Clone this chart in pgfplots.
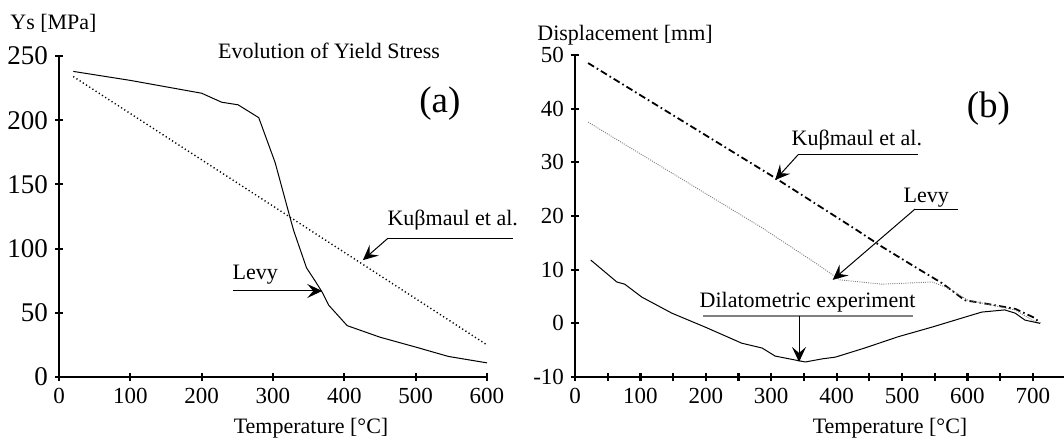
\documentclass[border=0pt]{standalone}
\usepackage{fontspec}
\setmainfont{Liberation Serif}
\usepackage{pgfplots}
\pgfplotsset{compat=1.18}
\usetikzlibrary{arrows.meta}
\tikzset{
 arr/.style={-{Stealth[length=7.5pt,width=7pt,inset=3pt]}, line width=0.5pt},
 ann/.style={font=\fontsize{11}{13}\selectfont, inner sep=0pt},
}
\pgfplotsset{
 myaxis/.style={
  scale only axis,
  axis x line=bottom, axis y line=left,
  axis line style={-, line width=1.4pt},
  tick align=center, major tick length=4pt,
  tick style={black, line width=1.1pt},
  /pgf/number format/assume math mode=true,
  ticklabel style={font=\fontsize{11.5}{13}\selectfont},
  clip=false,
 },
}
\begin{document}
\begin{tikzpicture}
\path[use as bounding box] (0pt,0pt) rectangle (532pt,219.5pt);
% ---------- (a) ----------
\begin{axis}[myaxis, at={(29.5pt,31pt)}, anchor=south west,
  width=214pt, height=160.5pt,
  xmin=0, xmax=600, ymin=0, ymax=250,
  yticklabel style={font=\fontsize{13.5}{15}\selectfont},
  xtick={0,100,...,600}, ytick={0,50,...,250}]
\addplot[black, line width=0.5pt] coordinates {
 (20,238) (100,231) (200,221) (228,214) (251,212) (280,202) (303,167)
 (324,124) (329,114) (347,85) (360,74) (369,66) (378,56) (404,40) (450,31)
 (502,23) (546,16) (600,11)};
\addplot[black, line width=0.7pt, dash pattern=on 0.6pt off 1.3pt] coordinates {
 (20,234) (600,25)};
\node[ann] at (axis cs:552,122) {Ku\char"03B2 maul et al.};
\draw[line width=0.5pt] (axis cs:636,108) -- (axis cs:461,108);
\draw[arr] (axis cs:461,108) -- (axis cs:426,91);
\node[ann] at (axis cs:275,80) {Levy};
\draw[arr] (axis cs:244,67) -- (axis cs:369,67);
\node[font=\fontsize{18.5}{20}\selectfont, inner sep=0pt] at (axis cs:534,213) {(a)};
\node[ann] at (axis cs:378.5,254) {Evolution of Yield Stress};
\end{axis}
% ---------- (b) ----------
\begin{axis}[myaxis, at={(287.5pt,31pt)}, anchor=south west,
  width=244.6pt, height=161pt,
  xmin=0, xmax=748, ymin=-10, ymax=50,
  xtick={0,50,...,700}, xticklabels={0,,100,,200,,300,,400,,500,,600,,700},
  ytick={-10,0,...,50}, yticklabels={-10,0,10,20,30,40,50}]
\addplot[black, line width=0.9pt, dash pattern=on 3.5pt off 1.6pt on 0.8pt off 1.6pt] coordinates {
 (20,48.5) (306,27.1) (428,17.6) (469,14.3) (520,10.5) (561,7.5) (596,4.3)
 (622,3.8) (673,2.7) (703,1.0) (711,0)};
\addplot[gray, line width=0.45pt, dash pattern=on 0.5pt off 0.6pt] coordinates {
 (20,37.5) (286,17.8) (367,11.3) (405,8.1) (469,7.3) (546,7.7) (570,6.6)
 (601,4.3) (622,3.8) (673,2.5) (699,0.6) (711,0)};
\addplot[black, line width=0.5pt] coordinates {
 (24,11.8) (64,7.7) (76,7.3) (102,4.9) (148,1.9) (199,-0.7) (255,-3.7)
 (286,-4.6) (306,-6.1) (352,-7.2) (379,-6.6) (398,-6.3) (443,-4.6)
 (494,-2.5) (546,-0.7) (592,1.0) (622,2.1) (657,2.5) (673,1.9) (688,0.6) (711,0)};
\node[ann] at (axis cs:431,34.2) {Ku\char"03B2 maul et al.};
\draw[line width=0.5pt] (axis cs:524,31.4) -- (axis cs:341,31.4);
\draw[arr] (axis cs:341,31.4) -- (axis cs:306,26.7);
\node[ann] at (axis cs:537,23.5) {Levy};
\draw[line width=0.5pt] (axis cs:586,21.3) -- (axis cs:520,21.3);
\draw[arr] (axis cs:520,21.3) -- (axis cs:394,8.1);
\node[ann] at (axis cs:355.5,4.0) {Dilatometric experiment};
\draw[gray, line width=0.9pt] (axis cs:196,1.4) -- (axis cs:517,1.4);
\draw[arr] (axis cs:342.5,1.4) -- (axis cs:342.5,-7.2);
\node[font=\fontsize{18.5}{20}\selectfont, inner sep=0pt] at (axis cs:632,40.1) {(b)};
\end{axis}
% ---------- labels ----------
\node[ann, anchor=west] at (5pt,208pt) {Ys [MPa]};
\node[ann, anchor=west] at (268.5pt,202pt) {Displacement [mm]};
\node[ann] at (155.5pt,5.5pt) {Temperature [°C]};
\node[ann] at (445pt,5.5pt) {Temperature [°C]};
\end{tikzpicture}
\end{document}
